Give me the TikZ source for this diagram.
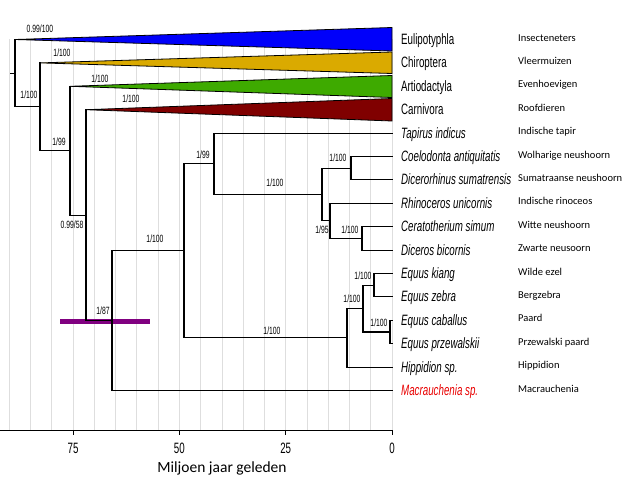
\documentclass[tikz,border=0pt]{standalone}
\usepackage{fontspec}
\setmainfont{Liberation Sans}
\newfontfamily\narsans[FakeStretch=0.65]{Liberation Sans}
\newfontfamily\calsans{Carlito}
\definecolor{cblue}{RGB}{0,0,250}
\definecolor{cyellow}{RGB}{218,170,0}
\definecolor{cgreen}{RGB}{62,170,0}
\definecolor{cred}{RGB}{128,0,0}
\definecolor{cpurple}{RGB}{128,0,128}
\definecolor{macred}{RGB}{232,0,0}
\definecolor{gridgray}{RGB}{222,222,222}
\begin{document}
\begin{tikzpicture}[x=1pt,y=-1pt,
  branch/.style={line width=1.1pt, line cap=rect},
  clade/.style={draw=black, line width=0.8pt, line join=round},
  gridline/.style={draw=gridgray, line width=0.7pt},
  taxon/.style={anchor=base west, inner sep=0pt, font=\narsans\fontsize{15}{17}\selectfont},
  common/.style={anchor=base west, inner sep=0pt, font=\calsans\fontsize{10.5}{12}\selectfont},
  support/.style={anchor=center, inner sep=0pt, font=\narsans\fontsize{10.5}{12}\selectfont},
  ticklab/.style={anchor=base, inner sep=0pt, font=\narsans\fontsize{15}{17}\selectfont},
  axtitle/.style={anchor=base, inner sep=0pt, font=\calsans\fontsize{15.5}{18}\selectfont}]
\useasboundingbox (0,0) rectangle (640,480);
% grid lines every 5 Ma
\foreach \m in {0,5,...,90} {
  \draw[gridline] ({392-4.253*\m},39) -- ({392-4.253*\m},430);
}
% clade triangles
\filldraw[clade, fill=cblue]   (15,39.5) -- (392,27.5) -- (392,51) -- cycle;
\filldraw[clade, fill=cyellow] (40,62.9) -- (392,52) -- (392,73.5) -- cycle;
\filldraw[clade, fill=cgreen]  (70,86.3) -- (392,75.5) -- (392,97.5) -- cycle;
\filldraw[clade, fill=cred]    (86,109.7) -- (392,98.5) -- (392,121) -- cycle;
% purple bar
\fill[cpurple] (60,319) rectangle (150,324);
% tip coordinates
\coordinate (a0) at (15,39.5);
\coordinate (a1) at (40,62.9);
\coordinate (a2) at (70,86.3);
\coordinate (a3) at (86,109.7);
\coordinate (t4) at (392,133.1);
\coordinate (t5) at (392,156.5);
\coordinate (t6) at (392,179.9);
\coordinate (t7) at (392,203.3);
\coordinate (t8) at (392,226.7);
\coordinate (t9) at (392,250.1);
\coordinate (t10) at (392,273.5);
\coordinate (t11) at (392,296.9);
\coordinate (t12) at (392,320.3);
\coordinate (t13) at (392,343.7);
\coordinate (t14) at (392,367.1);
\coordinate (t15) at (392,390.5);
% internal nodes
\coordinate (stub) at (11,73.2);
\coordinate (n1) at (15,73.2);
\coordinate (n2) at (40,106.8);
\coordinate (n3) at (70,150.7);
\coordinate (n4) at (86,215.2);
\coordinate (n5) at (112,320.7);
\coordinate (n6) at (184,250.8);
\coordinate (n7) at (214,163.8);
\coordinate (n8) at (322,194.5);
\coordinate (n9) at (351,168.2);
\coordinate (n10) at (330,220.9);
\coordinate (n11) at (362,238.4);
\coordinate (n12) at (347,337.9);
\coordinate (n13) at (363,308.6);
\coordinate (n14) at (374,285.2);
\coordinate (n15) at (390,332.0);
% branches
\draw[branch] (stub) -- (n1);
\draw[branch] (n1) |- (a0);
\draw[branch] (n1) |- (n2);
\draw[branch] (n2) |- (a1);
\draw[branch] (n2) |- (n3);
\draw[branch] (n3) |- (a2);
\draw[branch] (n3) |- (n4);
\draw[branch] (n4) |- (a3);
\draw[branch] (n4) |- (n5);
\draw[branch] (n5) |- (n6);
\draw[branch] (n5) |- (t15);
\draw[branch] (n6) |- (n7);
\draw[branch] (n6) |- (n12);
\draw[branch] (n7) |- (t4);
\draw[branch] (n7) |- (n8);
\draw[branch] (n8) |- (n9);
\draw[branch] (n8) |- (n10);
\draw[branch] (n9) |- (t5);
\draw[branch] (n9) |- (t6);
\draw[branch] (n10) |- (t7);
\draw[branch] (n10) |- (n11);
\draw[branch] (n11) |- (t8);
\draw[branch] (n11) |- (t9);
\draw[branch] (n12) |- (n13);
\draw[branch] (n12) |- (t14);
\draw[branch] (n13) |- (n14);
\draw[branch] (n13) |- (n15);
\draw[branch] (n14) |- (t10);
\draw[branch] (n14) |- (t11);
\draw[branch] (n15) |- (t12);
\draw[branch] (n15) |- (t13);
% support values
\node[support] (s1) at (40,29) {0.99/100};
\node[support] (s2) at (29,95) {1/100};
\node[support] (s3) at (62,53) {1/100};
\node[support] (s4) at (59,142) {1/99};
\node[support] (s5) at (100,79) {1/100};
\node[support] (s6) at (72,225) {0.99/58};
\node[support] (s7) at (131,99) {1/100};
\node[support] (s8) at (103,311) {1/87};
\node[support] (s9) at (155,239) {1/100};
\node[support] (s10) at (203,155) {1/99};
\node[support] (s11) at (275,183) {1/100};
\node[support] (s12) at (338,158) {1/100};
\node[support] (s13) at (322,229.5) {1/95};
\node[support] (s14) at (350,229.5) {1/100};
\node[support] (s15) at (272,331) {1/100};
\node[support] (s16) at (352,299) {1/100};
\node[support] (s17) at (363,276) {1/100};
\node[support] (s18) at (379,323) {1/100};
% taxon names
\node[taxon] (l0) at (401,44.5) {Eulipotyphla};
\node[taxon] (l1) at (401,67.9) {Chiroptera};
\node[taxon] (l2) at (401,91.3) {Artiodactyla};
\node[taxon] (l3) at (401,114.7) {Carnivora};
\node[taxon] (l4) at (401,138.1) {\itshape Tapirus indicus};
\node[taxon] (l5) at (401,161.5) {\itshape Coelodonta antiquitatis};
\node[taxon] (l6) at (401,184.9) {\itshape Dicerorhinus sumatrensis};
\node[taxon] (l7) at (401,208.3) {\itshape Rhinoceros unicornis};
\node[taxon] (l8) at (401,231.7) {\itshape Ceratotherium simum};
\node[taxon] (l9) at (401,255.1) {\itshape Diceros bicornis};
\node[taxon] (l10) at (401,278.5) {\itshape Equus kiang};
\node[taxon] (l11) at (401,301.9) {\itshape Equus zebra};
\node[taxon] (l12) at (401,325.3) {\itshape Equus caballus};
\node[taxon] (l13) at (401,348.7) {\itshape Equus przewalskii};
\node[taxon] (l14) at (401,372.1) {\itshape Hippidion sp.};
\node[taxon, text=macred] (l15) at (401,395.5) {\itshape Macrauchenia sp.};
% common names
\node[common] (c0) at (518,41) {Insecteneters};
\node[common] (c1) at (518,64.4) {Vleermuizen};
\node[common] (c2) at (518,87.8) {Evenhoevigen};
\node[common] (c3) at (518,111.2) {Roofdieren};
\node[common] (c4) at (518,134.6) {Indische tapir};
\node[common] (c5) at (518,158) {Wolharige neushoorn};
\node[common] (c6) at (518,181.4) {Sumatraanse neushoorn};
\node[common] (c7) at (518,204.8) {Indische rinoceos};
\node[common] (c8) at (518,228.2) {Witte neushoorn};
\node[common] (c9) at (518,251.6) {Zwarte neusoorn};
\node[common] (c10) at (518,275) {Wilde ezel};
\node[common] (c11) at (518,298.4) {Bergzebra};
\node[common] (c12) at (518,321.8) {Paard};
\node[common] (c13) at (518,345.2) {Przewalski paard};
\node[common] (c14) at (518,368.6) {Hippidion};
\node[common] (c15) at (518,392) {Macrauchenia};
% axis
\coordinate (ax0) at (0,430);
\coordinate (ax1) at (392,430);
\draw[line width=0.9pt] (ax0) -- (ax1);
\foreach \m in {0,25,50,75} {
  \draw[line width=0.9pt] ({392-4.253*\m},430) -- ({392-4.253*\m},435);
  \node[ticklab] (tick\m) at ({392-4.253*\m},453) {\m};
}
\node[axtitle] (axt) at (222,472) {Miljoen jaar geleden};
\end{tikzpicture}
\end{document}
